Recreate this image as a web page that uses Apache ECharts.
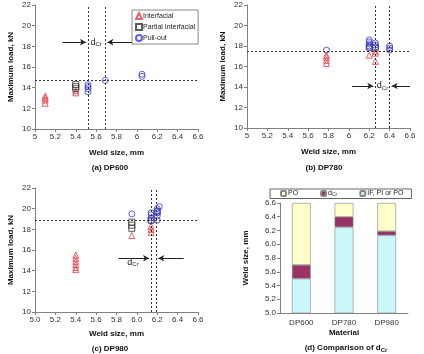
<!DOCTYPE html>
<html><head><meta charset="utf-8">
<script src="https://cdn.jsdelivr.net/npm/echarts@6/dist/echarts.min.js"></script>
<style>html,body{margin:0;padding:0;background:#fff}#c{width:424px;height:354px}</style>
</head><body><div id="c"></div>
<script>
// ---- Data ----
const dp600IF = [[5.1,12.5],[5.1,12.8],[5.1,13.0],[5.1,13.2],[5.4,13.5],[5.4,13.7]];
const dp600PI = [[5.4,13.9],[5.4,14.1],[5.4,14.3]];
const dp600PO = [[5.52,13.6],[5.52,13.9],[5.52,14.1],[5.52,14.3],[5.69,14.7],[6.05,15.1],[6.05,15.3]];
const dp600Guide = {load:14.7, d1:5.52, d2:5.69, arrowY:18.4, arrowL:[5.27,5.50], arrowR:[5.95,5.71], label:[5.6,18.4]};

const dp780IF = [[5.78,16.3],[5.78,16.6],[5.78,16.9],[5.78,17.1],[6.2,17.1],[6.26,16.5],[6.26,17.3],[6.26,17.5]];
const dp780PI = [[6.2,17.9],[6.26,17.8]];
const dp780PO = [[5.78,17.6],[6.2,17.8],[6.2,18.0],[6.2,18.2],[6.2,18.4],[6.2,18.6],[6.26,17.9],[6.26,18.1],[6.26,18.3],[6.4,17.6],[6.4,17.8],[6.4,18.0]];
const dp780Guide = {load:17.5, d1:6.26, d2:6.4, arrowY:14.1, arrowL:[6.03,6.24], arrowR:[6.6,6.42], label:[6.33,14.1]};

const dp980IF = [[5.4,14.1],[5.4,14.3],[5.4,14.6],[5.4,14.9],[5.4,15.2],[5.4,15.5],[5.95,17.4],[6.14,17.7],[6.14,18.0],[6.14,18.3]];
const dp980PI = [[5.95,18.1],[5.95,18.4],[5.95,18.7],[6.14,18.9],[6.2,19.7]];
const dp980PO = [[5.95,19.5],[6.14,18.8],[6.14,19.1],[6.14,19.4],[6.14,19.6],[6.2,18.9],[6.2,19.3],[6.2,19.6],[6.2,19.8],[6.2,20.0],[6.22,20.2]];
const dp980Guide = {load:18.9, d1:6.14, d2:6.19, arrowY:15.2, arrowL:[5.82,6.12], arrowR:[6.46,6.21], label:[5.96,14.8]};

const materials = ['DP600','DP780','DP980'];
const ifPiPo = [5.5, 6.25, 6.13];
const dCr = [0.2, 0.15, 0.06];
const po = [0.9, 0.2, 0.41];

// ---- Chart ----
const chart = echarts.init(document.getElementById('c'), null, {renderer:'canvas'});
const FONT = 'Liberation Sans, Arial, sans-serif';
const axisCol = '#808080';
const lbl = {fontSize:8, color:'#333', fontFamily:FONT, margin:4};
const nameStyle = {fontSize:8, fontWeight:'bold', color:'#111', fontFamily:FONT};
const RED = '#e03c46', BLK = '#333333', BLU = '#3a3ad0';

function xVal(i, fmt){
  return {type:'value', gridIndex:i, min:5, max:6.6, interval:0.2,
    axisLine:{lineStyle:{color:axisCol}}, axisTick:{length:3, lineStyle:{color:axisCol}},
    splitLine:{show:false},
    axisLabel:Object.assign({}, lbl, fmt ? {formatter:v=>v.toFixed(1)} : {formatter:v=>String(+v.toFixed(1))}),
    name:'Weld size, mm', nameLocation:'middle', nameGap: i===2 ? 18 : 20, nameTextStyle:nameStyle};
}
function yVal(i){
  return {type:'value', gridIndex:i, min:10, max:22, interval:2,
    axisLine:{show:true, lineStyle:{color:axisCol}}, axisTick:{show:true, length:3, lineStyle:{color:axisCol}},
    splitLine:{show:false}, axisLabel:lbl,
    name:'Maximum load, kN', nameLocation:'middle', nameGap:20, nameTextStyle:nameStyle};
}
function scat(name, i, data, sym, col){
  return {type:'scatter', name, xAxisIndex:i, yAxisIndex:i, data, symbol:sym, symbolSize:6,
    itemStyle:{color:'rgba(0,0,0,0)', borderColor:col, borderWidth:1}, z:3};
}
function guide(i, g){
  const dotted = {color:'#333', width:1, type:[2,2]};
  const solid = {color:'#222', width:1, type:'solid'};
  return {type:'scatter', name:'guide'+i, xAxisIndex:i, yAxisIndex:i, data:[], silent:true,
    markLine:{silent:true, symbol:['none','none'], animation:false, label:{show:false},
      data:[
        {yAxis:g.load, lineStyle:dotted},
        {xAxis:g.d1, lineStyle:dotted},
        {xAxis:g.d2, lineStyle:dotted},
        [{coord:[g.arrowL[0], g.arrowY], symbol:'none', lineStyle:solid},{coord:[g.arrowL[1], g.arrowY], symbol:'arrow', symbolSize:[5,6]}],
        [{coord:[g.arrowR[0], g.arrowY], symbol:'none', lineStyle:solid},{coord:[g.arrowR[1], g.arrowY], symbol:'arrow', symbolSize:[5,6]}]
      ]},
    markPoint:{silent:true, animation:false, data:[{coord:g.label, symbol:'circle', symbolSize:1, itemStyle:{color:'rgba(0,0,0,0)'},
      label:{show:true, position:'inside', formatter:'{d|d}{s|Cr}',
        rich:{d:{fontSize:9, color:'#222', fontFamily:FONT}, s:{fontSize:6, color:'#222', fontFamily:FONT, verticalAlign:'bottom', padding:[4,0,0,0]}}}}]}
  };
}

const option = {
  backgroundColor:'#fff',
  animation:false,
  textStyle:{fontFamily:FONT},
  grid:[
    {left:35, top:5, width:163, height:124},
    {left:247, top:5, width:163, height:123},
    {left:35, top:188, width:163, height:124},
    {left:280, top:203, width:128, height:110}
  ],
  xAxis:[ xVal(0,false), xVal(1,false), xVal(2,true),
    {type:'category', gridIndex:3, data:materials, axisLine:{lineStyle:{color:axisCol}},
     axisTick:{length:3, lineStyle:{color:axisCol}}, axisLabel:Object.assign({}, lbl, {margin:6}),
     name:'Material', nameLocation:'middle', nameGap:16, nameTextStyle:nameStyle}
  ],
  yAxis:[ yVal(0), yVal(1), yVal(2),
    {type:'value', gridIndex:3, min:5, max:6.6, interval:0.2,
     axisLine:{show:true, lineStyle:{color:axisCol}}, axisTick:{show:true, length:3, lineStyle:{color:axisCol}},
     splitLine:{show:false}, axisLabel:Object.assign({}, lbl, {formatter:v=>v.toFixed(1)}),
     name:'Weld size, mm', nameLocation:'middle', nameGap:30, nameTextStyle:nameStyle}
  ],
  title:[
    {text:'(a) DP600', left:105, top:159, textAlign:'center', textStyle:nameStyle},
    {text:'(b) DP780', left:319, top:159, textAlign:'center', textStyle:nameStyle},
    {text:'(c) DP980', left:105, top:340, textAlign:'center', textStyle:nameStyle},
    {text:'(d) Comparison of {s|d}{sub|Cr}', left:341, top:338, textAlign:'center',
     textStyle:Object.assign({}, nameStyle, {rich:{s:Object.assign({}, nameStyle), sub:Object.assign({}, nameStyle, {fontSize:6, verticalAlign:'bottom', padding:[4,0,0,0]})}})}
  ],
  legend:[
    {data:['Interfacial','Partial Interfacial','Pull-out'], orient:'vertical', left:132, top:10,
     itemWidth:6, itemHeight:6, itemGap:3, padding:[2,3,2,3], borderColor:'#888', borderWidth:1,
     textStyle:{fontSize:7, color:'#222', fontFamily:FONT, padding:[0,0,0,-4]}, selectedMode:false},
    {data:['PO','dCr','IF, PI or PO'], orient:'horizontal', left:270, top:189, width:131,
     itemWidth:5, itemHeight:5, itemGap:22, padding:[1,8,1,10], borderColor:'#666', borderWidth:1,
     textStyle:{fontSize:7, color:'#222', fontFamily:FONT, padding:[0,0,0,-3],
       rich:{n:{fontSize:7, color:'#222'}, s:{fontSize:5, color:'#222', verticalAlign:'bottom', padding:[3,0,0,0]}}},
     formatter:n=> n==='dCr' ? '{n|d}{s|Cr}' : n, selectedMode:false}
  ],
  series:[
    scat('Interfacial',0,dp600IF,'triangle',RED),
    scat('Partial Interfacial',0,dp600PI,'rect',BLK),
    scat('Pull-out',0,dp600PO,'circle',BLU),
    guide(0, dp600Guide),
    scat('Interfacial',1,dp780IF,'triangle',RED),
    scat('Partial Interfacial',1,dp780PI,'rect',BLK),
    scat('Pull-out',1,dp780PO,'circle',BLU),
    guide(1, dp780Guide),
    scat('Interfacial',2,dp980IF,'triangle',RED),
    scat('Partial Interfacial',2,dp980PI,'rect',BLK),
    scat('Pull-out',2,dp980PO,'circle',BLU),
    guide(2, dp980Guide),
    {type:'bar', name:'IF, PI or PO', xAxisIndex:3, yAxisIndex:3, stack:'w', data:ifPiPo, barWidth:'44%',
     itemStyle:{color:'#ccf7fa', borderColor:'#888', borderWidth:0.6}},
    {type:'bar', name:'dCr', xAxisIndex:3, yAxisIndex:3, stack:'w', data:dCr, barWidth:'44%',
     itemStyle:{color:'#993366', borderColor:'#888', borderWidth:0.6}},
    {type:'bar', name:'PO', xAxisIndex:3, yAxisIndex:3, stack:'w', data:po, barWidth:'44%',
     itemStyle:{color:'#ffffcc', borderColor:'#888', borderWidth:0.6}}
  ]
};
chart.setOption(option);
</script></body></html>
